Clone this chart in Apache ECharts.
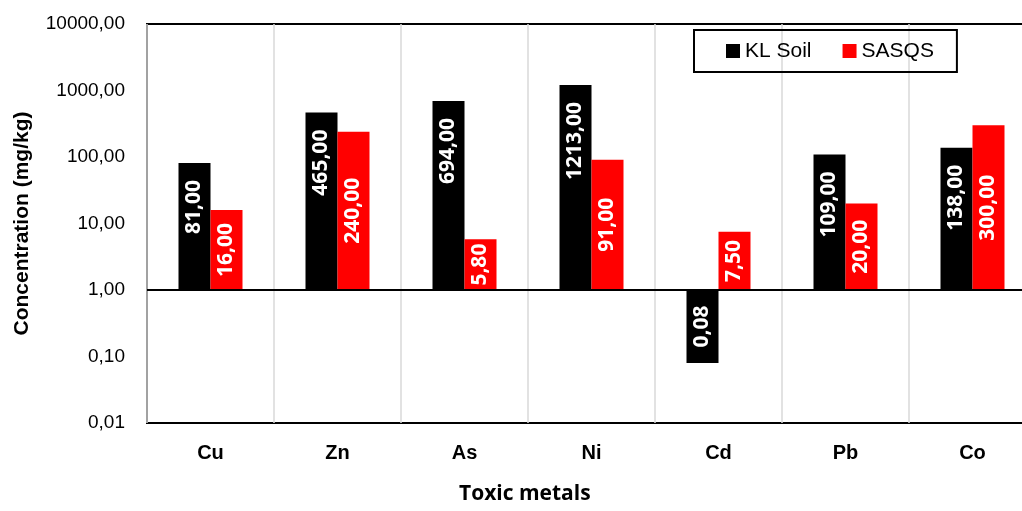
<!DOCTYPE html>
<html>
<head>
<meta charset="utf-8">
<script src="https://cdn.jsdelivr.net/npm/echarts@6/dist/echarts.min.js"></script>
<style>html,body{margin:0;padding:0;background:#fff}#c{width:1022px;height:511px}</style>
</head>
<body>
<div id="c"></div>
<script>
const categories = ['Cu', 'Zn', 'As', 'Ni', 'Cd', 'Pb', 'Co'];
const klSoil = [81, 465, 694, 1213, 0.08, 109, 138];
const sasqs = [16, 240, 5.8, 91, 7.5, 20, 300];
const seriesNames = ['KL Soil', 'SASQS'];
const yTicks = [0.01, 0.1, 1, 10, 100, 1000, 10000];

const SANS = "'Liberation Sans', Arial, sans-serif";
const fmt = v => Number(v).toFixed(2).replace('.', ',');

const chart = echarts.init(document.getElementById('c'), null, {renderer: 'canvas'});

const labelBase = {
  show: true, rotate: 90, color: '#fff', fontFamily: "'Open Sans', sans-serif",
  fontWeight: 'bold', fontSize: 21,
  formatter: p => fmt(p.value)
};

chart.setOption({
  animation: false,
  backgroundColor: '#fff',
  grid: {left: 147, top: 24, bottom: 88, right: -14, show: true, borderColor: '#000', borderWidth: 2,
         containLabel: false, outerBoundsMode: 'none'},
  legend: {
    left: 694, top: 30,
    data: seriesNames,
    itemWidth: 14, itemHeight: 14, itemGap: 31,
    icon: 'rect',
    borderColor: '#000', borderWidth: 2,
    padding: [9, 23, 9, 32],
    textStyle: {fontFamily: SANS, fontSize: 21, color: '#000', lineHeight: 24}
  },
  xAxis: {
    type: 'category', data: categories,
    axisLine: {show: false, onZero: false},
    axisTick: {show: false},
    axisLabel: {fontFamily: SANS, fontWeight: 'bold', fontSize: 20, color: '#000', margin: 20},
    splitLine: {show: true, lineStyle: {color: '#d9d9d9', width: 1.5}}
  },
  yAxis: {
    type: 'log', logBase: 10, min: yTicks[0], max: yTicks[yTicks.length - 1],
    name: 'Concentration (mg/kg)', nameLocation: 'middle', nameGap: 114,
    nameTextStyle: {fontFamily: SANS, fontWeight: 'bold', fontSize: 21, color: '#000'},
    axisLine: {show: false}, axisTick: {show: false}, splitLine: {show: false},
    axisLabel: {fontFamily: SANS, fontSize: 19, color: '#000', margin: 22, formatter: v => fmt(v)}
  },
  graphic: [{
    type: 'text', left: 459, top: 484,
    style: {text: 'Toxic metals', font: "bold 21px 'Open Sans', sans-serif", fill: '#000'}
  }],
  series: [
    {
      name: seriesNames[0], type: 'bar', data: klSoil.map((v, i) => categories[i] === 'Cd'
        ? {value: v, label: {position: 'inside', align: 'center', verticalAlign: 'middle'}}
        : v),
      barWidth: 32, barGap: '0%',
      itemStyle: {color: '#000'},
      label: Object.assign({}, labelBase, {position: 'insideTop', align: 'right', verticalAlign: 'middle', distance: 17}),
      markLine: {
        silent: true, symbol: ['none', 'none'],
        label: {show: false},
        lineStyle: {color: '#000', width: 2, type: 'solid'},
        data: [{yAxis: 1}]
      },
      z: 3
    },
    {
      name: seriesNames[1], type: 'bar', data: sasqs,
      barWidth: 32, barGap: '0%',
      itemStyle: {color: '#ff0000'},
      label: Object.assign({}, labelBase, {position: 'inside'}),
      z: 3
    }
  ]
});
</script>
</body>
</html>
